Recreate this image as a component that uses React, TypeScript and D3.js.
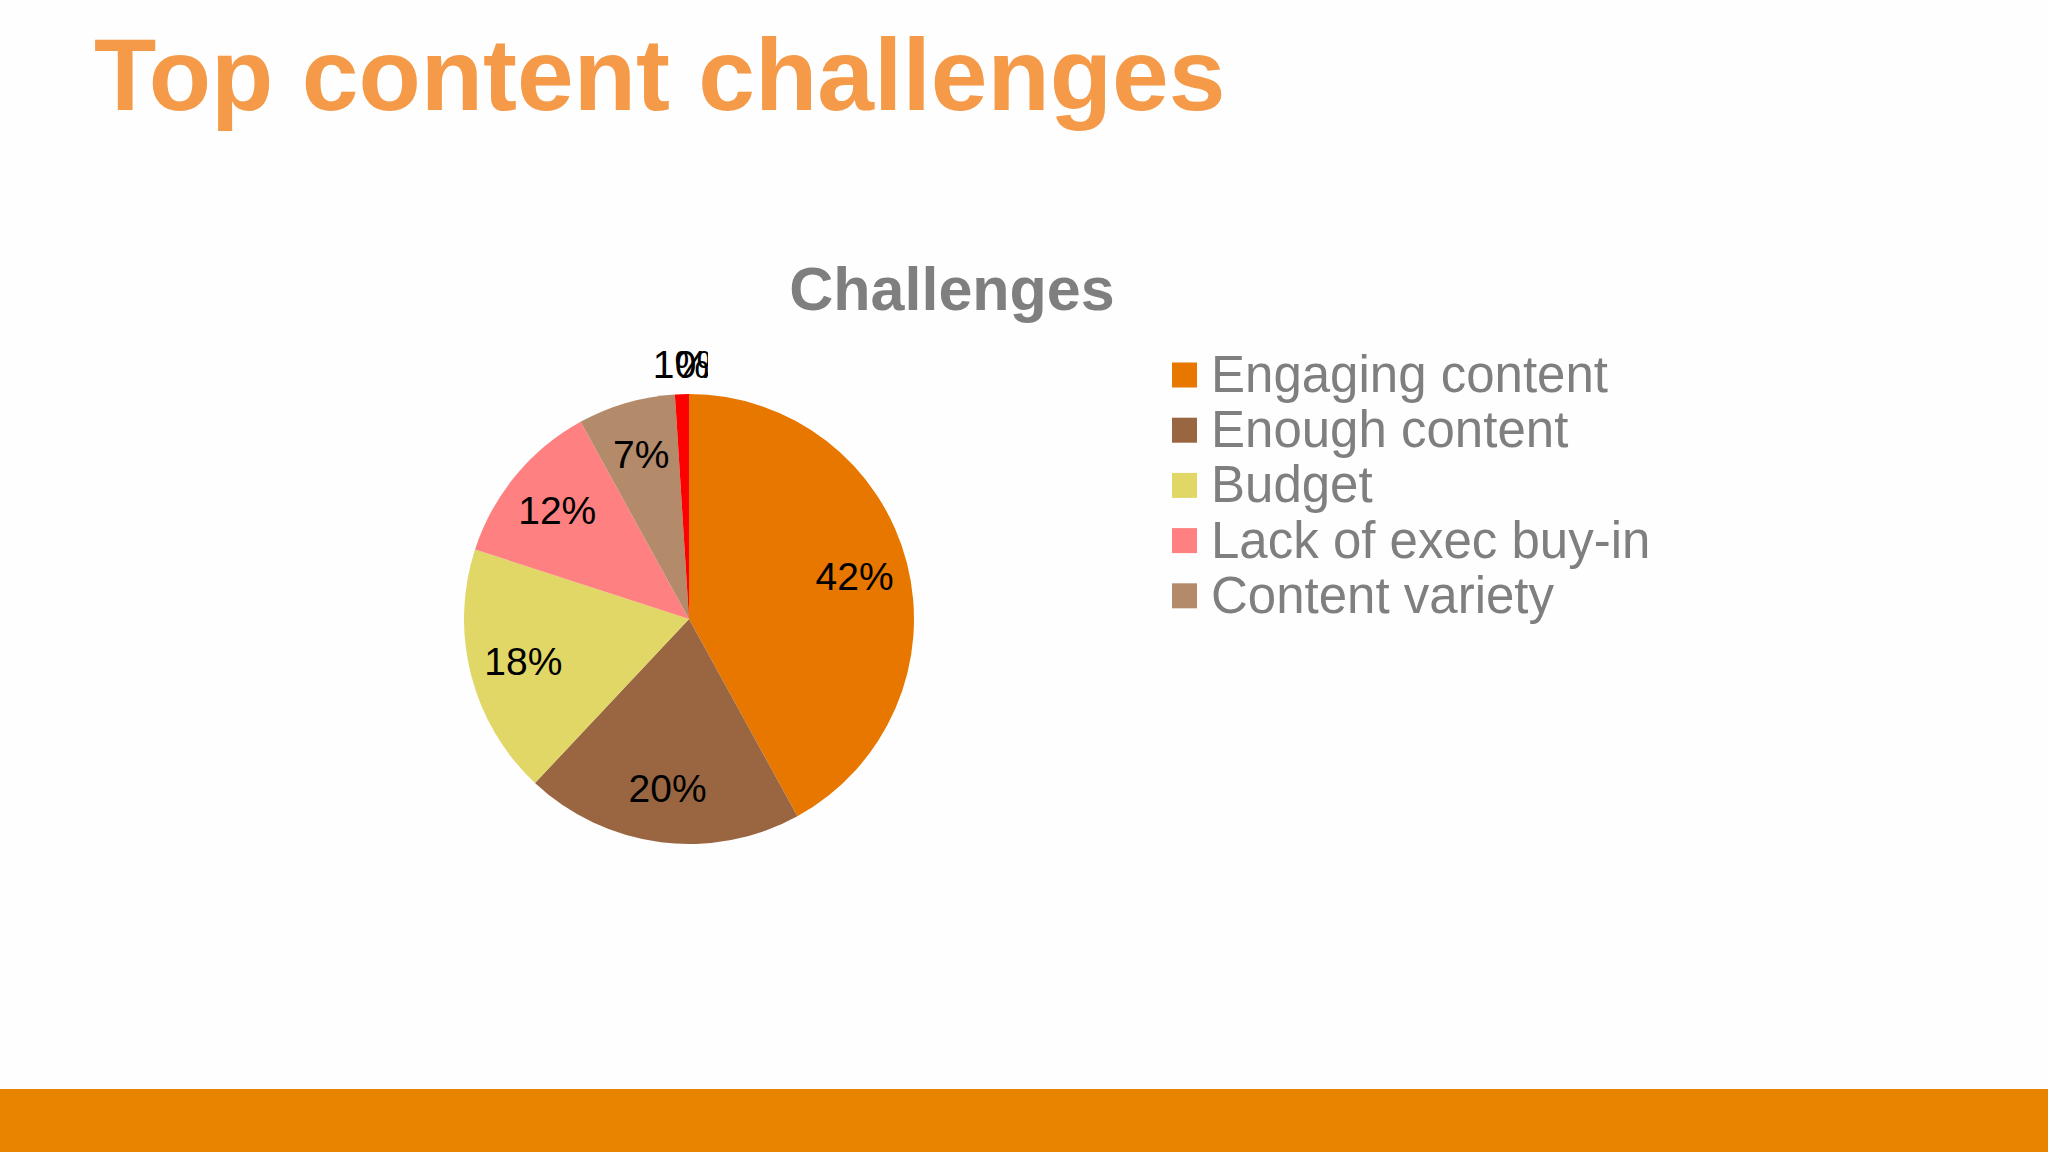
import React, { useEffect, useRef } from 'react';
import * as d3 from 'd3';

const W = 2048;
const H = 1152;

// slice data, in drawing order (clockwise from 12 o'clock)
const categories = ['Engaging content', 'Enough content', 'Budget', 'Lack of exec buy-in', 'Content variety', 'Other', 'None'];
const values = [42, 20, 18, 12, 7, 1, 0];
const sliceColors = ['#E87700', '#9A6641', '#E0D766', '#FF8080', '#B38A6A', '#FF0000', '#C00000'];
// only the first five show up in the legend
const legendCount = 5;

const App: React.FC = () => {
  const svgRef = useRef<SVGSVGElement>(null);

  useEffect(() => {
    if (!svgRef.current) return;
    const svg = d3.select(svgRef.current);
    svg.selectAll('*').remove();

    const font = "'Liberation Sans', Arial, sans-serif";

    svg.append('rect').attr('width', W).attr('height', H).attr('fill', '#FEFEFE');

    // slide title
    svg.append('text')
      .attr('x', 94).attr('y', 110)
      .attr('font-family', font).attr('font-weight', 'bold')
      .attr('font-size', 102).attr('fill', '#F49A48')
      .text('Top content challenges');

    // bottom band
    svg.append('rect')
      .attr('x', 0).attr('y', 1089).attr('width', W).attr('height', H - 1089)
      .attr('fill', '#E88400');

    // chart title
    svg.append('text')
      .attr('x', 952).attr('y', 310)
      .attr('text-anchor', 'middle')
      .attr('font-family', font).attr('font-weight', 'bold')
      .attr('font-size', 61).attr('fill', '#7F7F7F')
      .text('Challenges');

    // pie
    const cx = 689;
    const cy = 619;
    const r = 225;
    const total = d3.sum(values);

    const pie = d3.pie<number>().sort(null).value(d => d);
    const arcs = pie(values);
    const arc = d3.arc<d3.PieArcDatum<number>>().innerRadius(0).outerRadius(r);
    const labelArcIn = d3.arc<d3.PieArcDatum<number>>().innerRadius(r * 0.76).outerRadius(r * 0.76);
    const labelArcOut = d3.arc<d3.PieArcDatum<number>>().innerRadius(r * 1.13).outerRadius(r * 1.13);

    const g = svg.append('g').attr('transform', `translate(${cx},${cy})`);

    g.selectAll('path.slice')
      .data(arcs)
      .enter().append('path')
      .attr('class', 'slice')
      .attr('d', arc)
      .attr('fill', (_d, i) => sliceColors[i]);

    // clip for the crowded outside labels at the top
    svg.append('defs').append('clipPath').attr('id', 'lblclip')
      .append('rect').attr('x', -W).attr('y', -H).attr('width', W + 19).attr('height', 2 * H);

    arcs.forEach((a) => {
      const small = a.data / total < 0.05;
      const [lx, ly] = small ? labelArcOut.centroid(a) : labelArcIn.centroid(a);
      g.append('text')
        .attr('x', lx).attr('y', ly)
        .attr('dx', small && a.data === 0 ? 14 : 0)
        .attr('text-anchor', 'middle')
        .attr('dominant-baseline', 'central')
        .attr('font-family', font).attr('font-size', 39)
        .attr('fill', '#000')
        .attr('clip-path', small ? 'url(#lblclip)' : null)
        .text(`${Math.round((a.data / total) * 100)}%`);
    });

    // legend
    const legend = svg.append('g').attr('transform', 'translate(1172,375)');
    const rows = legend.selectAll('g.row')
      .data(categories.slice(0, legendCount))
      .enter().append('g')
      .attr('class', 'row')
      .attr('transform', (_d, i) => `translate(0,${i * 55.2})`);
    rows.append('rect')
      .attr('x', 0).attr('y', -12.5).attr('width', 25).attr('height', 25)
      .attr('fill', (_d, i) => sliceColors[i]);
    rows.append('text')
      .attr('x', 39).attr('y', 17)
      .attr('font-family', font).attr('font-size', 51)
      .attr('fill', '#7F7F7F')
      .text(d => d);
  }, []);

  return (
    <div style={{ position: 'fixed', left: 0, top: 0, width: W, height: H }}>
      <svg ref={svgRef} width={W} height={H} style={{ display: 'block' }} />
    </div>
  );
};

export default App;
